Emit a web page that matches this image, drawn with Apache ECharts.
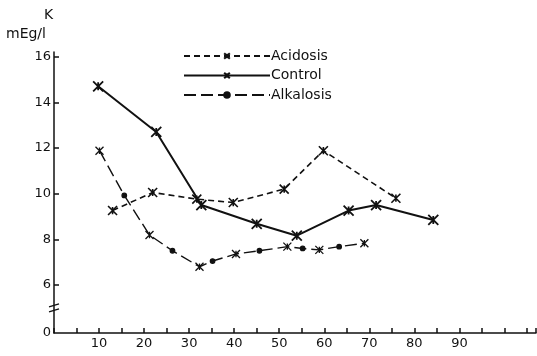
<!DOCTYPE html>
<html><head><meta charset="utf-8">
<script src="https://cdn.jsdelivr.net/npm/echarts@6/dist/echarts.min.js"></script>
<style>html,body{margin:0;padding:0;background:#fff}#c{width:537px;height:356px}</style>
</head><body><div id="c"></div>
<script>
const seriesNames = ['Acidosis', 'Control', 'Alkalosis'];
const acidosis = [[13,9.26],[21.9,10.05],[31.7,9.76],[39.8,9.61],[51.1,10.2],[59.8,11.88],[75.9,9.8]];
const control = [[9.8,14.7],[22.7,12.7],[32.7,9.5],[45,8.68],[53.9,8.16],[65.4,9.26],[71.5,9.5],[84.2,8.85]];
const alkalosis = [[10.1,11.88],[15.6,9.92],[21.2,8.19],[26.3,7.5],[32.3,6.8],[35.2,7.05],[40.4,7.36],[45.6,7.5],[51.8,7.68],[55.2,7.6],[58.9,7.54],[63.3,7.68],[68.9,7.83]];
const alkalosisMarks = ['x','dot','x','dot','x','dot','x','dot','x','dot','x','dot','x'];
const yTickValues = [3.9, 6, 8, 10, 12, 14, 16];
const yTickLabels = ['0', '6', '8', '10', '12', '14', '16'];
const xLabelValues = [10, 20, 30, 40, 50, 60, 70, 80, 90];

const XSYM = 'path://M0,0L10,10M10,0L0,10M5,1L5,9';
const FONT = 'DejaVu Sans';
const chart = echarts.init(document.getElementById('c'));
const option = {
  animation: false,
  backgroundColor: '#fff',
  textStyle: {fontFamily: FONT, color: '#111'},
  grid: {left: 54, right: 1, top: 52, bottom: 23},
  legend: {
    orient: 'vertical', left: 178, top: 44, itemWidth: 86, itemHeight: 7, itemGap: 5.5,
    data: seriesNames,
    textStyle: {fontFamily: FONT, fontSize: 14, color: '#111', padding: [0,0,0,-4]}
  },
  xAxis: {
    type: 'value', min: 0, max: 107, interval: 5,
    axisLine: {lineStyle: {color: '#111', width: 1.5}},
    axisTick: {inside: true, length: 5, lineStyle: {color: '#111', width: 1.5}},
    splitLine: {show: false},
    axisLabel: {
      customValues: xLabelValues, color: '#111', fontSize: 13, margin: 4,
      formatter: v => String(v)
    }
  },
  yAxis: {
    type: 'value', min: 3.9, max: 16.2,
    axisLine: {show: true, lineStyle: {color: '#111', width: 1.5}},
    axisTick: {show: true, inside: true, length: 5, customValues: yTickValues.slice(1), lineStyle: {color: '#111', width: 1.5}},
    splitLine: {show: false},
    axisLabel: {
      customValues: yTickValues, color: '#111', fontSize: 13, margin: 3,
      formatter: v => yTickLabels[yTickValues.indexOf(v)] ?? ''
    }
  },
  series: [
    {
      name: seriesNames[0], type: 'line', data: acidosis,
      symbol: XSYM, symbolSize: 9,
      itemStyle: {color: '#111', borderColor: '#111', borderWidth: 1.6},
      lineStyle: {color: '#111', width: 1.6, type: [6, 4]}
    },
    {
      name: seriesNames[1], type: 'line', data: control,
      symbol: XSYM, symbolSize: 10,
      itemStyle: {color: '#111', borderColor: '#111', borderWidth: 1.8},
      lineStyle: {color: '#111', width: 2}
    },
    {
      name: seriesNames[2], type: 'line',
      data: alkalosis.map((p, i) => alkalosisMarks[i] === 'x'
        ? {value: p, symbol: XSYM, symbolSize: 8}
        : {value: p, symbol: 'circle', symbolSize: 4.5}),
      symbol: 'circle', symbolSize: 4.5,
      itemStyle: {color: '#111', borderColor: '#111', borderWidth: 1.3},
      lineStyle: {color: '#111', width: 1.4, type: [12, 5]}
    }
  ]
};
chart.setOption(option);
const pBreak = chart.convertToPixel({gridIndex: 0}, [0, 5.0]);
const pAx = chart.convertToPixel({gridIndex: 0}, [0, 16.2]);
chart.setOption({
  graphic: [
    {type: 'text', left: pAx[0] - 10, top: 8, style: {text: 'K', font: '14px ' + FONT, fill: '#111'}},
    {type: 'text', left: 6, top: 27, style: {text: 'mEg/l', font: '14px ' + FONT, fill: '#111'}},
    {type: 'line', shape: {x1: pBreak[0] - 5, y1: pBreak[1] - 1, x2: pBreak[0] + 5, y2: pBreak[1] - 4}, style: {stroke: '#111', lineWidth: 1.5}},
    {type: 'line', shape: {x1: pBreak[0] - 5, y1: pBreak[1] + 4, x2: pBreak[0] + 5, y2: pBreak[1] + 1}, style: {stroke: '#111', lineWidth: 1.5}}
  ]
});
</script>
</body></html>
